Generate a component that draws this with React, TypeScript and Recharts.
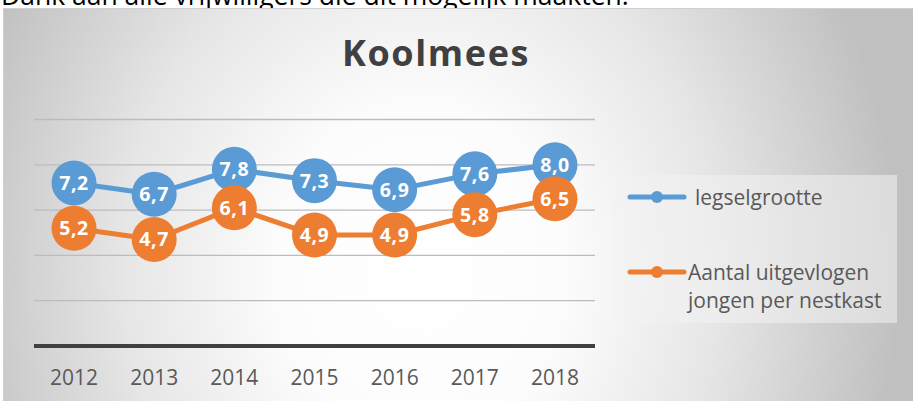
import React from 'react';
import { LineChart, Line, XAxis, YAxis, CartesianGrid, LabelList, Legend } from 'recharts';

const years = ['2012', '2013', '2014', '2015', '2016', '2017', '2018'];
const legsel = [7.2, 6.7, 7.8, 7.3, 6.9, 7.6, 8.0];
const uitgevlogen = [5.2, 4.7, 6.1, 4.9, 4.9, 5.8, 6.5];
const yTicks = [0, 2, 4, 6, 8, 10];
const title = 'Koolmees';
const caption = 'Dank aan alle vrijwilligers die dit mogelijk maakten.';
const seriesNames = ['legselgrootte', 'Aantal uitgevlogen jongen per nestkast'];

const data = years.map((y, i) => ({ year: y, a: legsel[i], b: uitgevlogen[i] }));

const BLUE = '#5B9BD5';
const ORANGE = '#ED7D31';
const FONT = '"Open Sans", "Noto Sans", sans-serif';

const fmt = (v: any) => (typeof v === 'number' ? v.toFixed(1).replace('.', ',') : v);

const LegendBox = (props: any) => {
  const payload = [...(props.payload || [])].sort(
    (p: any, q: any) => seriesNames.indexOf(p.value) - seriesNames.indexOf(q.value)
  );
  const tops = [8, 83];
  const textLeft = [80, 73];
  return (
    <div
      style={{
        position: 'relative',
        width: 282,
        height: 148,
        background: 'rgba(242,242,242,0.55)',
        fontFamily: FONT,
      }}
    >
      {payload.map((p: any, i: number) => (
        <div key={i}>
          <svg
            width={60}
            height={14}
            style={{ position: 'absolute', left: 12, top: tops[i] + 14 - 7 }}
          >
            <line x1={3} y1={7} x2={57} y2={7} stroke={p.color} strokeWidth={5} strokeLinecap="round" />
            <circle cx={30} cy={7} r={6} fill={p.color} />
          </svg>
          <div
            style={{
              position: 'absolute',
              left: textLeft[i],
              top: tops[i],
              width: 205,
              fontSize: 21,
              lineHeight: '28px',
              color: '#595959',
              textAlign: 'left',
            }}
          >
            {p.value}
          </div>
        </div>
      ))}
    </div>
  );
};

export default function App() {
  return (
    <div
      style={{
        position: 'absolute',
        left: 0,
        top: 0,
        width: 913,
        height: 401,
        overflow: 'hidden',
        background: '#fff',
        fontFamily: FONT,
      }}
    >
      <div
        style={{
          position: 'absolute',
          left: 1,
          top: -23.3,
          fontSize: 26.5,
          lineHeight: '36px',
          color: '#000',
          whiteSpace: 'nowrap',
        }}
      >
        {caption}
      </div>
      <div
        style={{
          position: 'absolute',
          left: 3,
          top: 8,
          width: 920,
          height: 400,
          borderLeft: '1px solid #d0d0d0',
          borderTop: '1px solid #d0d0d0',
          background:
            'radial-gradient(ellipse 480px 560px at 417px 262px, #ffffff 0%, #fcfcfc 30%, #e6e6e6 62%, #c0c0c0 100%)',
        }}
      />
      <div
        style={{
          position: 'absolute',
          left: 236,
          top: 35,
          width: 400,
          textAlign: 'center',
          fontSize: 36,
          lineHeight: '36px',
          fontWeight: 700,
          letterSpacing: 1.6,
          color: '#404040',
        }}
      >
        {title}
      </div>
      <div style={{ position: 'absolute', left: 0, top: 0 }}>
        <LineChart
          width={913}
          height={401}
          data={data}
          margin={{ top: 119.5, right: 318, left: 34, bottom: 15 }}
        >
          <CartesianGrid vertical={false} stroke="#bcbcbc" strokeWidth={1.3} />
          <XAxis
            dataKey="year"
            height={40}
            padding={{ left: 40, right: 40 }}
            axisLine={{ stroke: '#404040', strokeWidth: 4 }}
            tickLine={false}
            tickSize={0}
            tickMargin={24}
            tick={{ fill: '#595959', fontSize: 21, fontFamily: FONT }}
            interval={0}
          />
          <YAxis hide domain={[0, 10]} ticks={yTicks} />
          <Legend
            layout="vertical"
            align="center"
            verticalAlign="middle"
            content={<LegendBox />}
            wrapperStyle={{ left: 615, top: 175, width: 282, height: 148, margin: 0 }}
          />
          <Line
            dataKey="a"
            name={seriesNames[0]}
            stroke={BLUE}
            strokeWidth={5}
            isAnimationActive={false}
            dot={{ r: 22.5, fill: BLUE, stroke: BLUE, strokeWidth: 0 }}
            activeDot={false}
          >
            <LabelList
              dataKey="a"
              position="center"
              formatter={fmt}
              fill="#ffffff"
              fontSize={19.5}
              fontWeight={700}
              fontFamily={FONT}
              style={{ letterSpacing: 0.6 }}
            />
          </Line>
          <Line
            dataKey="b"
            name={seriesNames[1]}
            stroke={ORANGE}
            strokeWidth={5}
            isAnimationActive={false}
            dot={{ r: 22.5, fill: ORANGE, stroke: ORANGE, strokeWidth: 0 }}
            activeDot={false}
          >
            <LabelList
              dataKey="b"
              position="center"
              formatter={fmt}
              fill="#ffffff"
              fontSize={19.5}
              fontWeight={700}
              fontFamily={FONT}
              style={{ letterSpacing: 0.6 }}
            />
          </Line>
        </LineChart>
      </div>
    </div>
  );
}
